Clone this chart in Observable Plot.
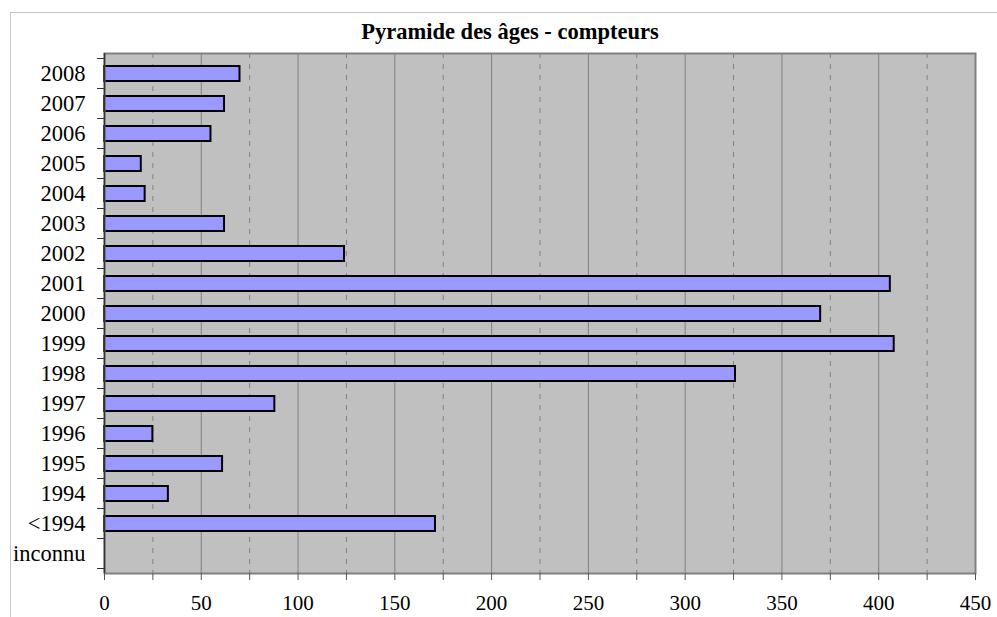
<!DOCTYPE html>
<html>
<head>
<meta charset="utf-8">
<script src="https://cdn.jsdelivr.net/npm/d3@7"></script>
<script src="https://cdn.jsdelivr.net/npm/@observablehq/plot@0.6"></script>
<style>
  html, body { margin: 0; padding: 0; background: #fff; }
  #wrap { position: relative; width: 997px; height: 617px; overflow: hidden; }
  #border { position: absolute; left: 10px; top: 12px; right: -5px; bottom: -5px;
            border-top: 1px solid #c4c4c4; border-left: 1px solid #c4c4c4; }
  #title { position: absolute; left: 0; width: 1020px; top: 19px; text-align: center;
           font-family: "Liberation Serif", "Times New Roman", serif; font-weight: bold;
           font-size: 22.5px; color: #000; }
  #chart { position: absolute; left: 0; top: 0; }
</style>
</head>
<body>
<div id="wrap">
  <div id="border"></div>
  <div id="chart"></div>
  <div id="title">Pyramide des âges - compteurs</div>
</div>
<script>
const categories = ["2008","2007","2006","2005","2004","2003","2002","2001","2000","1999","1998","1997","1996","1995","1994","<1994","inconnu"];
const values     = [70, 62, 55, 19, 21, 62, 124, 406, 370, 408, 326, 88, 25, 61, 33, 171, 0];
const xTicks     = [0, 25, 50, 75, 100, 125, 150, 175, 200, 225, 250, 275, 300, 325, 350, 375, 400, 425, 450];

const data = categories.map((c, i) => ({cat: c, value: values[i]}));
const solidGrid = xTicks.filter(t => t > 0 && t < 450 && t % 50 === 0);
const dashedGrid = xTicks.filter(t => t % 50 !== 0);

// y-axis ticks at band boundaries, computed from the y scale
function bandBoundaryTicks(index, scales, values, dimensions) {
  const y = scales.y;
  const step = typeof y.step === "function" ? y.step() : y.step;
  const bw = typeof y.bandwidth === "function" ? y.bandwidth() : y.bandwidth;
  const ml = dimensions.marginLeft;
  const g = d3.create("svg:g").attr("stroke", "#333").attr("stroke-width", 1);
  const ys = categories.map(c => y(c) + bw / 2 - step / 2);
  ys.push(y(categories[categories.length - 1]) + bw / 2 + step / 2);
  for (const v of ys) {
    g.append("line").attr("x1", ml - 7).attr("x2", ml).attr("y1", v).attr("y2", v);
  }
  return g.node();
}

const chart = Plot.plot({
  width: 997,
  height: 617,
  marginLeft: 104,
  marginRight: 22,
  marginTop: 53,
  marginBottom: 44,
  style: {fontFamily: "Liberation Serif, Times New Roman, serif", fontSize: "21px", color: "#000", background: "transparent"},
  x: {domain: [0, 450]},
  y: {domain: categories, paddingInner: 0.5, paddingOuter: 0.25},
  marks: [
    Plot.frame({fill: "#c0c0c0", stroke: null}),
    Plot.gridX(dashedGrid, {stroke: "#808080", strokeOpacity: 1, strokeWidth: 1, strokeDasharray: "5,6"}),
    Plot.gridX(solidGrid, {stroke: "#808080", strokeOpacity: 1, strokeWidth: 1}),
    Plot.barX(data, {x: "value", y: "cat", fill: "#9999ff", stroke: "#000", strokeWidth: 2}),
    Plot.frame({stroke: "#808080", strokeWidth: 2}),
    Plot.ruleX([0], {stroke: "#333", strokeWidth: 1.5}),
    Plot.axisX({ticks: xTicks, tickFormat: d => d % 50 === 0 ? d : "", tickSize: 7, tickPadding: 15, fontSize: 21, label: null, stroke: "#555"}),
    Plot.axisY({tickSize: 0, tickPadding: 19, fontSize: 22.5, label: null}),
    bandBoundaryTicks
  ]
});
document.getElementById("chart").appendChild(chart);
</script>
</body>
</html>
